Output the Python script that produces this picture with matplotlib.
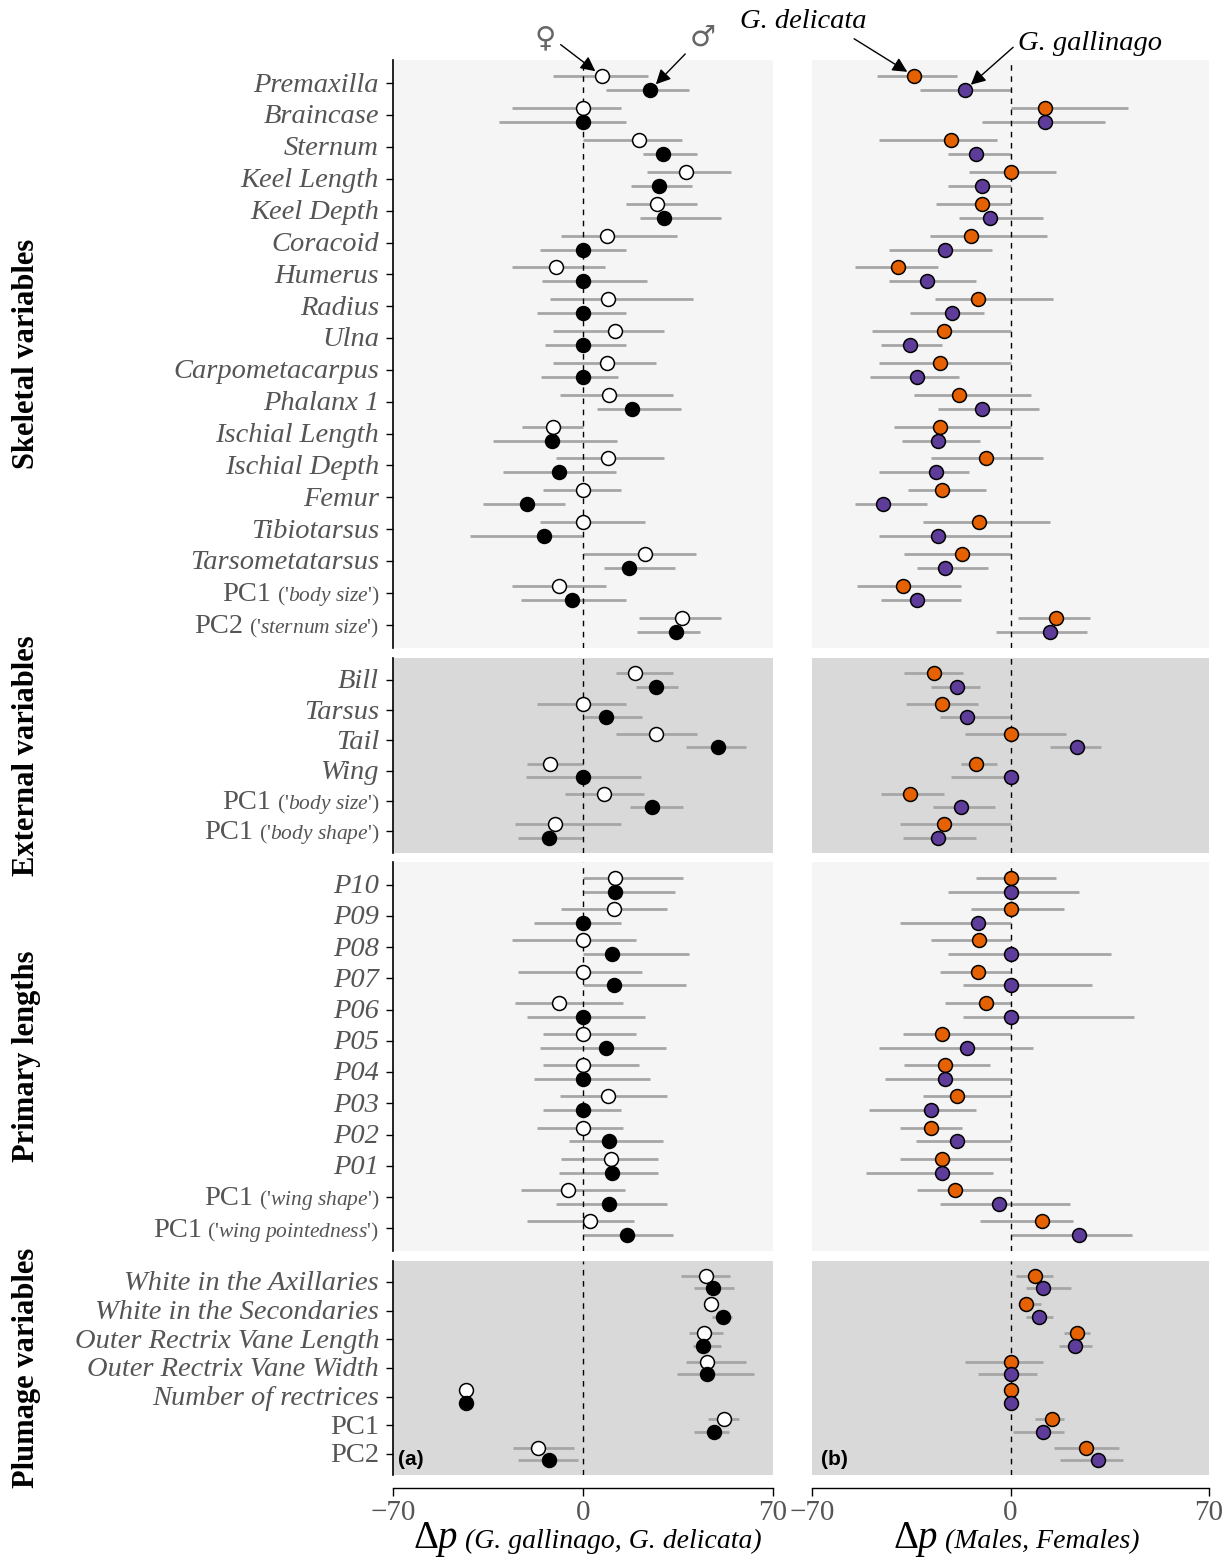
import numpy as np
import matplotlib
matplotlib.use("Agg")
import matplotlib.pyplot as plt

# =========================
# DATA
# =========================

skeletal_labels = ["Premaxilla", "Braincase", "Sternum", "Keel Length", "Keel Depth",
                   "Coracoid", "Humerus", "Radius", "Ulna", "Carpometacarpus",
                   "Phalanx 1", "Ischial Length", "Ischial Depth", "Femur",
                   "Tibiotarsus", "Tarsometatarsus", "PC1|body size", "PC2|sternum size"]
external_labels = ["Bill", "Tarsus", "Tail", "Wing", "PC1|body size", "PC1|body shape"]
primary_labels = ["P10", "P09", "P08", "P07", "P06", "P05", "P04", "P03", "P02", "P01",
                  "PC1|wing shape", "PC1|wing pointedness"]
plumage_labels = ["White in the Axillaries", "White in the Secondaries",
                  "Outer Rectrix Vane Length", "Outer Rectrix Vane Width",
                  "Number of rectrices", "PC1|", "PC2|"]

sections = ["Skeletal variables", "External variables", "Primary lengths", "Plumage variables"]

# panel (a): females (white) and males (black)
female = [7, 0, 20.6, 38, 27.3, 8.8, -10, 9.2, 11.8, 8.8, 9.6, -11, 9.2, 0, 0, 22.8, -8.8, 36.5,
          19, 0, 27, -12, 7.7, -10.3,
          11.8, 11.4, 0, 0, -8.8, 0, 0, 9.2, 0, 10.3, -5.5, 2.6,
          45.3, 47, 44.6, 45.7, -43, 52, -16.6]
female_lo = [-11, -26, 0, 23.6, 16, -8, -26, -12, -11, -11, -8.5, -22.5, -10, -14.7, -16, 0, -26, 20.6,
             12, -17, 12, -20.6, -6.6, -25,
             0, -8, -26, -24, -25, -14.7, -14.7, -8.5, -17, -8, -22.8, -20.6,
             36, 47, 39, 38, -43, 46, -25.8]
female_hi = [24, 14, 36.5, 54.5, 42, 34.6, 8, 40.5, 30, 27, 33, 0, 30, 14, 23, 41.6, 8.5, 51,
             33, 16, 42, 0, 22.5, 14,
             37, 31, 19.5, 21.7, 14.7, 19.5, 20.6, 31, 14.7, 27.6, 15.5, 18.8,
             54, 47, 51.6, 60, -43, 57.5, -3.3]
male = [24.7, 0, 29.5, 28, 30, 0, 0, 0, 0, 0, 18, -11.4, -8.8, -20.6, -14.4, 17, -4, 34.3,
        27, 8.5, 49.7, 0, 25.4, -12.5,
        11.8, 0, 10.7, 11.4, 0, 8.5, 0, 0, 9.6, 10.7, 9.6, 16.2,
        48, 51.6, 44.2, 45.7, -43, 48.3, -12.5]
male_lo = [8.5, -31, 22, 17.7, 21, -16, -15, -17, -14, -15.5, 5, -33, -29.5, -37, -41.6, 7.7, -23, 20,
           19.5, 0, 38, -21, 17.3, -24,
           0, -18, 0, 0, -20.6, -16, -18, -14.7, -5, -9, -10, 0,
           41, 47.5, 40.5, 34.6, -43, 41, -24]
male_hi = [39, 16, 42, 40, 51, 16, 23.6, 16, 16, 13, 36, 12.5, 12, -6.6, 0, 34, 16, 43,
           35, 21.7, 60, 21.4, 37, 0,
           34, 14, 39, 38, 23, 30.6, 24.7, 14, 29.5, 27.6, 31, 33,
           55.6, 55, 50.8, 63, -43, 53.8, -1.8]

# panel (b): G. delicata (orange) and G. gallinago (purple)
delicata = [-33.9, 12.3, -21, 0, -10, -14, -39.8, -11.6, -23.6, -24.7, -18.3, -24.7, -8.8, -24, -11, -17, -38, 16.2,
            -27, -24.3, 0, -12.3, -35.3, -23.6,
            0, 0, -11, -11.6, -8.8, -24, -23, -19, -28.2, -24.3, -19.7, 11,
            8.8, 5.6, 23.3, 0, 0, 14.8, 26.8]
delicata_lo = [-47, 0, -46.5, -14.5, -26.4, -28.5, -54.7, -26.8, -48.7, -46.5, -34, -41, -28, -36, -31, -37.4, -54.3, 2.8,
               -37.4, -37, -15.9, -17.6, -45.8, -38.8,
               -12.3, -14, -28, -25, -23, -38, -37.4, -31, -38.8, -39, -33, -10.6,
               2, 2.8, 18.7, -16.2, 0, 8.5, 15.5]
delicata_hi = [-19, 41.6, -4.6, 16.2, 0, 13, -25.7, 15, 0, 0, 7.4, 0, 11.6, -8.5, 14, 0, -17.6, 28.2,
               -16.6, -11.6, 19.4, -4.6, -23.3, 0,
               16.2, 18.7, 0, 0, 0, 0, -7.4, 0, -17, 0, 0, 21.9,
               15, 10.6, 28.2, 11.6, 0, 19, 38.4]
gallinago = [-16.2, 12.3, -12, -10, -7.4, -23, -29.6, -20.8, -35.3, -33, -10, -25.4, -26.4, -44.8, -25.4, -23, -33, 14.1,
             -19, -15.5, 23.3, 0, -17.3, -25.4,
             0, -11.3, 0, 0, 0, -15.5, -23, -27.9, -19, -24, -4.2, 24.3,
             11.6, 10.2, 22.9, 0, 0, 11.6, 30.7]
gallinago_lo = [-32, -10, -22, -22, -18, -42.7, -43, -35.6, -45.8, -49.4, -25.7, -38.4, -46.5, -54.7, -46.5, -32.8, -45.8, -5,
                -28, -24.7, 14, -21, -27.5, -38,
                -21.9, -38.8, -21.9, -16.6, -16.6, -46.5, -44.4, -50, -33.5, -50.8, -25, 0,
                5.3, 5.3, 17, -11.3, 0, 1, 17.6]
gallinago_hi = [0, 33.5, 0, 0, 11.6, -6.7, -12.3, -9.5, -24, -18.3, 9.9, -10.6, -14.8, -29.6, 0, -7.8, -17.6, 27,
                -10.6, 0, 32, 0, -5.6, -12.3,
                24.3, 0, 35.6, 28.6, 43.7, 7.8, 0, -12.3, 0, -6.3, 21, 43,
                21.5, 15, 28.6, 9.2, 0, 18.7, 39.8]

# =========================
# STYLE
# =========================

plt.rcParams["font.family"] = ["Liberation Serif", "DejaVu Sans"]
plt.rcParams["mathtext.fontset"] = "custom"
plt.rcParams["mathtext.rm"] = "Liberation Serif"
plt.rcParams["mathtext.it"] = "Liberation Serif:italic"

LIGHT = "#f5f5f5"
DARK = "#d9d9d9"
BAR = "#a6a6a6"
ORANGE = "#e66101"
PURPLE = "#5e3c99"
GRAY_TXT = "#555555"

W, H = 1231, 1559
# panel extents in pixels (top, bottom)
rows_px = [(60, 648), (658, 853), (862, 1251), (1261, 1475)]
cols_px = [(393, 773), (812, 1209)]
bgs = [LIGHT, DARK, LIGHT, DARK]

PAD = 0.73
DY = 0.22

fig = plt.figure(figsize=(W / 100, H / 100), dpi=100)
renderer = fig.canvas.get_renderer()

all_labels = [skeletal_labels, external_labels, primary_labels, plumage_labels]
left_series = [(female, female_lo, female_hi, "white"), (male, male_lo, male_hi, "black")]
right_series = [(delicata, delicata_lo, delicata_hi, ORANGE), (gallinago, gallinago_lo, gallinago_hi, PURPLE)]

axes = {}
start = 0
for r, labels in enumerate(all_labels):
    n = len(labels)
    sl = slice(start, start + n)
    start += n
    yy = np.arange(n)
    t, b = rows_px[r]
    for c, (x0, x1) in enumerate(cols_px):
        ax = fig.add_axes([x0 / W, 1 - b / H, (x1 - x0) / W, (b - t) / H])
        axes[(r, c)] = ax
        ax.set_facecolor(bgs[r])
        ax.set_xlim(-70, 70)
        ax.set_ylim(n - 1 + PAD, -PAD)
        for s in ["top", "right", "bottom"]:
            ax.spines[s].set_visible(False)
        if c == 1:
            ax.spines["left"].set_visible(False)
            ax.set_yticks([])
        else:
            ax.spines["left"].set_linewidth(1.2)
            ax.set_yticks(yy)
            ax.set_yticklabels([])
            ax.tick_params(axis="y", length=5, width=1)
        if r == 3:
            ax.spines["bottom"].set_visible(True)
            ax.spines["bottom"].set_position(("outward", 9))
            ax.spines["bottom"].set_linewidth(1)
            ax.set_xticks([-70, 0, 70])
            ax.set_xticklabels(["\u221270", "0", "70"])
            ax.tick_params(axis="x", length=6, width=1, labelsize=21, labelcolor=GRAY_TXT, pad=3)
        else:
            ax.set_xticks([])

        ax.axvline(0, color="black", lw=1, ls=(0, (4, 4)), zorder=2)

        series = left_series if c == 0 else right_series
        for k, (est, lo, hi, col) in enumerate(series):
            ys = yy + (-DY if k == 0 else DY)
            ax.hlines(ys, np.array(lo)[sl], np.array(hi)[sl], color=BAR, lw=2, zorder=1)
            ax.plot(np.array(est)[sl], ys, "o", mfc=col, mec="black", ms=10, mew=1.1,
                    zorder=3, clip_on=False)

    # y labels for the left column
    ax = axes[(r, 0)]
    for i, lab in enumerate(labels):
        if "|" in lab:
            main, sub = lab.split("|")
            x_off = -10
            if sub:
                sub_txt = "('$\\mathit{" + sub.replace(" ", "\\ ") + "}$')"
                t1 = ax.annotate(sub_txt, xy=(0, i), xycoords=("axes fraction", "data"),
                                 xytext=(x_off, -6), textcoords="offset points",
                                 ha="right", va="baseline", fontsize=15.5, color=GRAY_TXT)
                w = t1.get_window_extent(renderer).width * 72 / fig.dpi
                x_off = x_off - w - 4
            ax.annotate(main, xy=(0, i), xycoords=("axes fraction", "data"),
                        xytext=(x_off, -6), textcoords="offset points",
                        ha="right", va="baseline", fontsize=20.5, color=GRAY_TXT)
        else:
            ax.annotate(lab, xy=(0, i), xycoords=("axes fraction", "data"),
                        xytext=(-10, -6), textcoords="offset points",
                        ha="right", va="baseline", fontsize=20.5, color=GRAY_TXT, style="italic")

    # section title
    fig.text(27 / W, 1 - (t + b) / 2 / H, sections[r], rotation=90, ha="center", va="center",
             fontsize=22, fontweight="bold", color="black")

# panel letters
axes[(3, 0)].text(0.012, 0.03, "(a)", transform=axes[(3, 0)].transAxes, ha="left", va="bottom",
                  fontsize=15, fontweight="bold", family="Liberation Sans")
axes[(3, 1)].text(0.022, 0.03, "(b)", transform=axes[(3, 1)].transAxes, ha="left", va="bottom",
                  fontsize=15, fontweight="bold", family="Liberation Sans")

# x labels
base_y = 1 - 1548 / H
for xb, rest in [(458 / W, " (G. gallinago, G. delicata)"), (938 / W, " (Males, Females)")]:
    fig.text(xb, base_y, r"$\Delta\mathit{p}$", ha="right", va="baseline", fontsize=28)
    fig.text(xb, base_y, rest, ha="left", va="baseline", fontsize=20, style="italic")

# =========================
# ANNOTATIONS
# =========================

axa = axes[(0, 0)]
axb = axes[(0, 1)]
arrow = dict(arrowstyle="-|>", color="black", lw=1, mutation_scale=22, shrinkA=2, shrinkB=6)

axa.annotate("\u2640", xy=(female[0], -DY), xycoords="data",
             xytext=(545, H - 38), textcoords="figure pixels",
             ha="center", va="center", fontsize=21, color="#666666",
             family=["DejaVu Sans"], arrowprops=dict(arrow, relpos=(1, 0.4)),
             annotation_clip=False)
axa.annotate("\u2642", xy=(male[0], DY), xycoords="data",
             xytext=(703, H - 38), textcoords="figure pixels",
             ha="center", va="center", fontsize=21, color="#666666",
             family=["DejaVu Sans"], arrowprops=dict(arrow, relpos=(0.1, 0.2)),
             annotation_clip=False)
axb.annotate("G. delicata", xy=(delicata[0], -DY), xycoords="data",
             xytext=(803, H - 22), textcoords="figure pixels",
             ha="center", va="center", fontsize=20.5, style="italic",
             arrowprops=dict(arrow, relpos=(0.85, 0)), annotation_clip=False)
axb.annotate("G. gallinago", xy=(gallinago[0], DY), xycoords="data",
             xytext=(1090, H - 43), textcoords="figure pixels",
             ha="center", va="center", fontsize=20.5, style="italic",
             arrowprops=dict(arrow, relpos=(0, 0.5)), annotation_clip=False)

plt.savefig("out.png", dpi=100)
